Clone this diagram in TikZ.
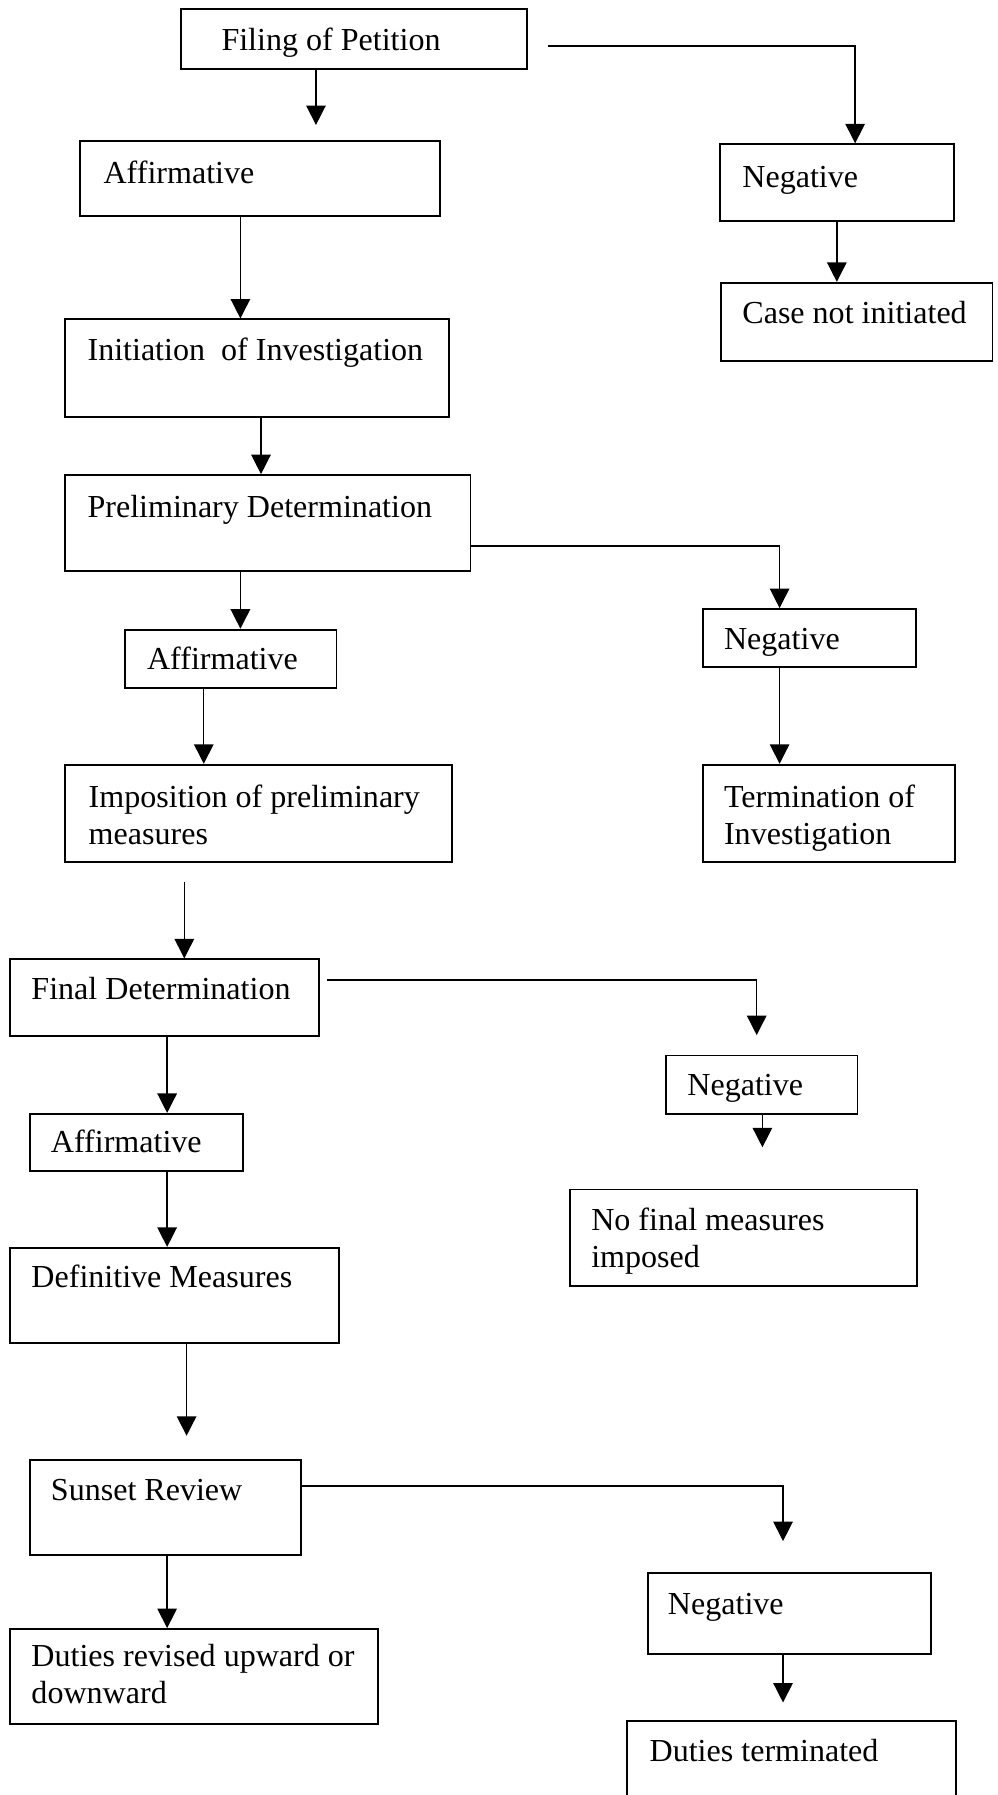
\documentclass[tikz,border=0pt]{standalone}
\usepackage{fontspec}
\setmainfont{Liberation Serif}
\usetikzlibrary{arrows.meta}
\tikzset{
  box/.style={draw, line width=0.65pt, inner sep=0pt},
  txt/.style={anchor=base west, inner sep=0pt, align=left},
  arr/.style={line width=0.5pt, -{Triangle[length=6.8pt,width=6.8pt]}}
}
\begin{document}
\begin{tikzpicture}[x=0.4pt,y=-0.4pt]
\fontsize{11.2}{13}\selectfont
\useasboundingbox (0,0) rectangle (871,1568);
\clip (0,0) rectangle (871,1568);

\node[box, minimum width=120.8pt, minimum height=20.8pt] (fil) at (309,34) {};
\node[box, minimum width=125.6pt, minimum height=26.4pt] (aff1) at (227,156) {};
\node[box, minimum width=81.6pt, minimum height=26.8pt] (neg1) at (731,159.5) {};
\node[box, minimum width=94.8pt, minimum height=27.2pt] (cni) at (748.5,281) {};
\node[box, minimum width=134pt, minimum height=34pt] (ini) at (224.5,321.5) {};
\node[box, minimum width=141.6pt, minimum height=33.6pt] (pre) at (234,457) {};
\node[box, minimum width=74pt, minimum height=20.4pt] (aff2) at (201.5,575.5) {};
\node[box, minimum width=135.2pt, minimum height=34pt] (imp) at (226,710.5) {};
\node[box, minimum width=74.4pt, minimum height=20.4pt] (neg2) at (707,557.5) {};
\node[box, minimum width=88pt, minimum height=34pt] (ter) at (724,710.5) {};
\node[box, minimum width=108pt, minimum height=26.8pt] (fin) at (144,871.5) {};
\node[box, minimum width=66.8pt, minimum height=20.4pt] (neg3) at (665.5,947.5) {};
\node[box, minimum width=121.2pt, minimum height=33.6pt] (nfm) at (649.5,1081) {};
\node[box, minimum width=74.4pt, minimum height=20pt] (aff3) at (119,998) {};
\node[box, minimum width=114.8pt, minimum height=33.2pt] (def) at (152.5,1131.5) {};
\node[box, minimum width=94.8pt, minimum height=33.2pt] (sun) at (144.5,1316.5) {};
\node[box, minimum width=128.4pt, minimum height=33.2pt] (dru) at (169.5,1464.5) {};
\node[box, minimum width=98.8pt, minimum height=28.4pt] (neg4) at (689.5,1409.5) {};
\node[box, minimum width=114.8pt, minimum height=34.8pt] (dut) at (691.5,1546.5) {};

\node[txt] (fil-t) at (193,44) {Filing of Petition};
\node[txt] (aff1-t) at (90,160) {Affirmative};
\node[txt] (neg1-t) at (648,164) {Negative};
\node[txt] (cni-t) at (648,283) {Case not initiated};
\node[txt] (ini-t) at (76,315) {Initiation\ \ of Investigation};
\node[txt] (pre-t) at (76,452) {Preliminary Determination};
\node[txt] (aff2-t) at (128,585) {Affirmative};
\node[txt] (imp-t) at (77,738) {Imposition of preliminary\\measures};
\node[txt] (neg2-t) at (632,567) {Negative};
\node[txt] (ter-t) at (632,738) {Termination of\\Investigation};
\node[txt] (fin-t) at (27,873) {Final Determination};
\node[txt] (neg3-t) at (600,957) {Negative};
\node[txt] (nfm-t) at (516,1107) {No final measures\\imposed};
\node[txt] (aff3-t) at (44,1007) {Affirmative};
\node[txt] (def-t) at (27,1125) {Definitive Measures};
\node[txt] (sun-t) at (44,1311) {Sunset Review};
\node[txt] (dru-t) at (27,1488) {Duties revised upward or\\downward};
\node[txt] (neg4-t) at (583,1410) {Negative};
\node[txt] (dut-t) at (567,1539) {Duties terminated};

\draw[arr, shorten >=5.2pt] (fil.south -| 276,0) -- (aff1.north -| 276,0);
\draw[arr, shorten <=7.2pt] (fil.east |- 0,40) -| (neg1.north -| 747,0);
\draw[arr] (neg1.south) -- (neg1.south |- cni.north);
\draw[arr] (aff1.south -| 210,0) -- (ini.north -| 210,0);
\draw[arr] (ini.south -| 228,0) -- (pre.north -| 228,0);
\draw[arr] (pre.east |- 0,477) -| (neg2.north -| 681,0);
\draw[arr] (pre.south -| 210,0) -- (aff2.north -| 210,0);
\draw[arr] (aff2.south -| 178,0) -- (imp.north -| 178,0);
\draw[arr] (neg2.south -| 681,0) -- (ter.north -| 681,0);
\draw[arr, shorten <=6.8pt] (imp.south -| 161,0) -- (fin.north -| 161,0);
\draw[arr, shorten <=2.4pt, shorten >=6.8pt] (fin.east |- 0,856) -| (neg3.north -| 661,0);
\draw[arr] (fin.south -| 146,0) -- (aff3.north -| 146,0);
\draw[arr, shorten >=14.4pt] (neg3.south -| 666,0) -- (nfm.north -| 666,0);
\draw[arr] (aff3.south -| 146,0) -- (def.north -| 146,0);
\draw[arr, shorten >=8pt] (def.south -| 163,0) -- (sun.north -| 163,0);
\draw[arr, shorten >=10.8pt] (sun.east |- 0,1298) -| (neg4.north -| 684,0);
\draw[arr] (sun.south -| 146,0) -- (dru.north -| 146,0);
\draw[arr, shorten >=6pt] (neg4.south -| 684,0) -- (dut.north -| 684,0);
\end{tikzpicture}
\end{document}
